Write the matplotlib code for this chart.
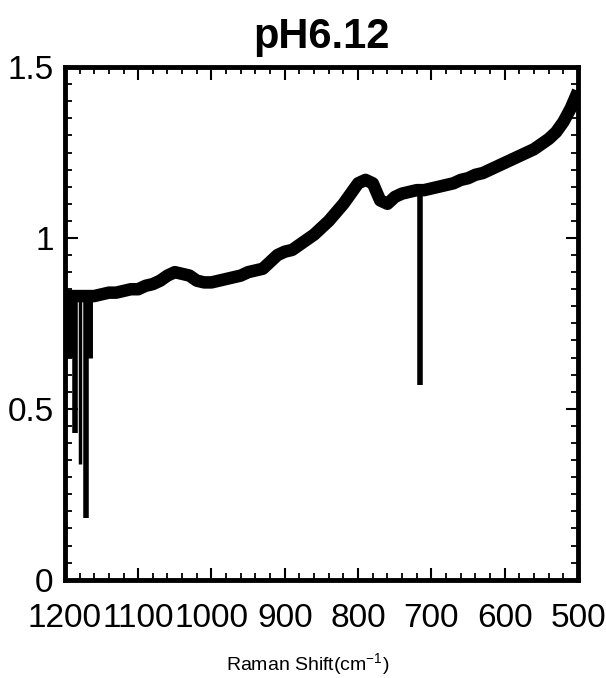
"""
Raman spectrum at pH 6.12 (recreated)
"""
import matplotlib
matplotlib.use('Agg')
import matplotlib.pyplot as plt
from matplotlib.ticker import MultipleLocator

plt.rcParams['font.family'] = ['Liberation Sans', 'DejaVu Sans']
plt.rcParams['mathtext.default'] = 'regular'

# Raman shift (cm-1) and intensity
shift = [1200, 1190, 1180, 1170, 1160, 1150, 1140, 1130, 1120, 1110,
         1100, 1090, 1080, 1070, 1060, 1050, 1040, 1030, 1020, 1010,
         1000, 990, 980, 970, 960, 950, 940, 930, 920, 910,
         900, 890, 880, 870, 860, 850, 840, 830, 820, 810,
         800, 790, 780, 770, 760, 750, 740, 730, 720, 710,
         700, 690, 680, 670, 660, 650, 640, 630, 620, 610,
         600, 590, 580, 570, 560, 550, 540, 530, 520, 510, 500]
intensity = [0.83, 0.83, 0.83, 0.83, 0.83, 0.835, 0.84, 0.84, 0.845, 0.85,
             0.85, 0.86, 0.865, 0.875, 0.89, 0.90, 0.895, 0.89, 0.875, 0.87,
             0.87, 0.875, 0.88, 0.885, 0.89, 0.90, 0.905, 0.91, 0.93, 0.95,
             0.96, 0.965, 0.98, 0.995, 1.01, 1.03, 1.05, 1.075, 1.10, 1.13,
             1.16, 1.17, 1.16, 1.11, 1.10, 1.12, 1.13, 1.135, 1.14, 1.14,
             1.145, 1.15, 1.155, 1.16, 1.17, 1.175, 1.185, 1.19, 1.20, 1.21,
             1.22, 1.23, 1.24, 1.25, 1.26, 1.275, 1.29, 1.31, 1.34, 1.38, 1.43]

# narrow downward spikes (cosmic rays / detector glitches)
spike_x = [1191, 1186, 1180, 1171, 1167, 715]
spike_top = [0.83, 0.83, 0.83, 0.83, 0.83, 1.14]
spike_low = [0.65, 0.43, 0.34, 0.18, 0.65, 0.57]
spike_lw = [6, 4, 2.5, 4, 5, 4]

xticks = [1200, 1100, 1000, 900, 800, 700, 600, 500]
yticks = [0, 0.5, 1, 1.5]
ytick_labels = ['0', '0.5', '1', '1.5']

fig = plt.figure(figsize=(6.06, 6.78), dpi=100)
ax = fig.add_axes([0.107, 0.145, 0.847, 0.756])

ax.plot(shift, intensity, color='black', linewidth=9, solid_capstyle='butt')
for x, top, low, lw in zip(spike_x, spike_top, spike_low, spike_lw):
    ax.vlines(x, low, top, color='black', linewidth=lw)

ax.set_xlim(1200, 500)
ax.set_ylim(0, 1.5)
ax.set_xticks(xticks)
ax.set_xticklabels([str(t) for t in xticks])
ax.set_yticks(yticks)
ax.set_yticklabels(ytick_labels)
ax.xaxis.set_minor_locator(MultipleLocator(20))
ax.yaxis.set_minor_locator(MultipleLocator(0.05))

ax.tick_params(which='both', direction='in', top=True, right=True,
               labelsize=24, colors='black')
ax.tick_params(axis='x', which='major', pad=17)
ax.tick_params(axis='y', which='major', pad=8)
ax.tick_params(which='major', length=9, width=1.5)
ax.tick_params(which='minor', length=5, width=1.3)
for s in ax.spines.values():
    s.set_linewidth(3.5)

ax.set_title('pH6.12', fontsize=30, fontweight='bold', pad=14)
ax.set_xlabel('Raman Shift(cm$^{-1}$)', fontsize=14)
ax.xaxis.set_label_coords(0.474, -0.14)

plt.savefig('out.png', dpi=100)
plt.close()
